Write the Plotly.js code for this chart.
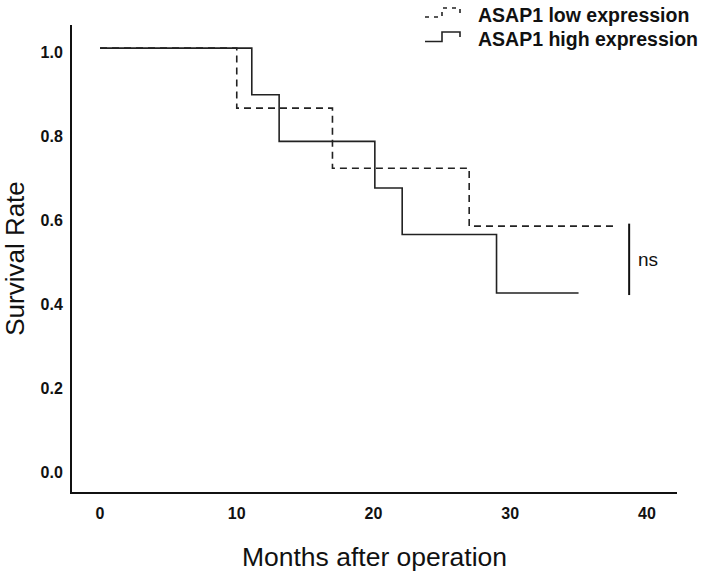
<!DOCTYPE html>
<html>
<head>
<meta charset="utf-8">
<script src="https://cdn.plot.ly/plotly-3.0.1.min.js"></script>
<style>html,body{margin:0;padding:0;background:#fff;}#chart{width:712px;height:577px;}</style>
</head>
<body>
<div id="chart"></div>
<script>
// Kaplan-Meier step data (months, survival)
const lowMonths = [0, 10, 17, 27, 37.6];
const lowSurvival = [1.0, 0.857, 0.714, 0.576, 0.576];
const highMonths = [0, 11.1, 13.1, 20.1, 22.1, 29.0, 35.0];
const highSurvival = [1.0, 0.889, 0.778, 0.667, 0.556, 0.417, 0.417];
const seriesNames = ["ASAP1 low expression", "ASAP1 high expression"];
const xTicks = [0, 10, 20, 30, 40];
const yTicks = [0.0, 0.2, 0.4, 0.6, 0.8, 1.0];
const yTickText = ["0.0", "0.2", "0.4", "0.6", "0.8", "1.0"];
const nsLabel = "ns";
const nsBar = {x: 38.7, y0: 0.412, y1: 0.582};

const FONT = "Liberation Sans, Arial, sans-serif";
const W = 712, H = 577;
const M = {l: 72, r: 35, t: 25, b: 85};
const PW = W - M.l - M.r, PH = H - M.t - M.b;
// convert page pixels to paper coordinates (for legend keys)
const px = x => (x - M.l) / PW;
const py = y => (H - M.b - y) / PH;
const stepPath = (x0, yb, x1, yt, x2, ye) =>
  `M ${px(x0)},${py(yb)} L ${px(x1)},${py(yb)} L ${px(x1)},${py(yt)} L ${px(x2)},${py(yt)} L ${px(x2)},${py(ye)}`;

const dashStyle = "7px,5px";
const traces = [
  {x: lowMonths, y: lowSurvival, name: seriesNames[0], type: "scatter", mode: "lines",
   line: {shape: "hv", color: "#222", width: 1.6, dash: dashStyle}},
  {x: highMonths, y: highSurvival, name: seriesNames[1], type: "scatter", mode: "lines",
   line: {shape: "hv", color: "#222", width: 1.6}}
];

const layout = {
  width: W, height: H,
  margin: {l: M.l, r: M.r, t: M.t, b: M.b, autoexpand: false},
  paper_bgcolor: "#fff", plot_bgcolor: "#fff",
  showlegend: false,
  xaxis: {range: [-2.05, 42.2], tickvals: xTicks, showgrid: false, zeroline: false,
    showline: true, linecolor: "#111", linewidth: 2, ticks: "",
    tickfont: {family: FONT, size: 16, color: "#111", weight: "bold"},
    ticklabelstandoff: 6,
    title: {text: "Months after operation", font: {family: FONT, size: 26.5, color: "#111"}, standoff: 26}},
  yaxis: {range: [-0.057, 1.055], tickvals: yTicks, ticktext: yTickText, showgrid: false, zeroline: false,
    showline: true, linecolor: "#111", linewidth: 2, ticks: "",
    tickfont: {family: FONT, size: 16, color: "#111", weight: "bold"},
    ticklabelstandoff: 4, ticklabelshift: 4,
    title: {text: "Survival Rate", font: {family: FONT, size: 26, color: "#111"}, standoff: 10}},
  shapes: [
    {type: "line", xref: "x", yref: "y", x0: nsBar.x, x1: nsBar.x, y0: nsBar.y0, y1: nsBar.y1,
     line: {color: "#111", width: 2}},
    // legend keys (step symbols)
    {type: "path", xref: "paper", yref: "paper", path: stepPath(425, 17, 442, 8, 460, 13),
     line: {color: "#222", width: 1.6, dash: "4px,5px"}},
    {type: "path", xref: "paper", yref: "paper", path: stepPath(425, 41.5, 442, 32, 460, 37),
     line: {color: "#222", width: 1.6}}
  ],
  annotations: [
    {xref: "x", yref: "y", x: nsBar.x + 0.5, y: (nsBar.y0 + nsBar.y1) / 2, text: nsLabel,
     showarrow: false, xanchor: "left", yanchor: "middle",
     font: {family: FONT, size: 19, color: "#111"}},
    {xref: "paper", yref: "paper", x: px(476), y: py(15), text: seriesNames[0],
     showarrow: false, xanchor: "left", yanchor: "middle",
     font: {family: FONT, size: 19.5, color: "#111", weight: "bold"}},
    {xref: "paper", yref: "paper", x: px(476), y: py(38.5), text: seriesNames[1],
     showarrow: false, xanchor: "left", yanchor: "middle",
     font: {family: FONT, size: 19.5, color: "#111", weight: "bold"}}
  ]
};

Plotly.newPlot("chart", traces, layout, {displayModeBar: false, staticPlot: true});
</script>
</body>
</html>
